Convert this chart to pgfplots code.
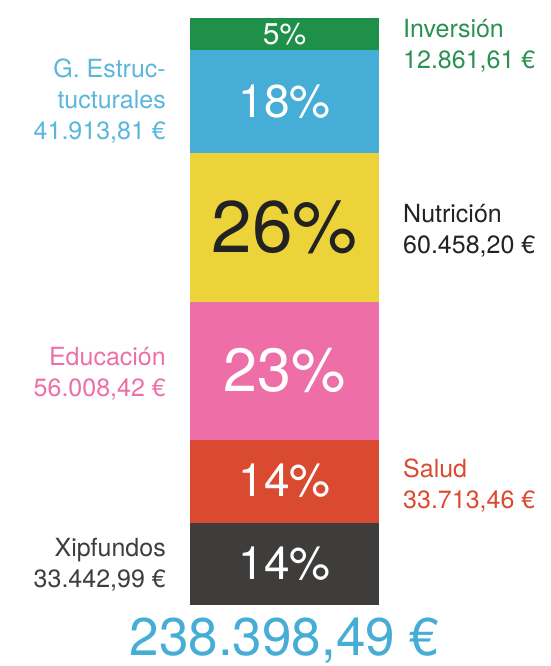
\documentclass[border=0pt]{standalone}
\usepackage{pgfplots}
\pgfplotsset{compat=1.18}
\usepackage{fontspec}
\setmainfont{TeX Gyre Heros}
\definecolor{cGreen}{HTML}{1F9049}
\definecolor{cBlue}{HTML}{46AED6}
\definecolor{cYellow}{HTML}{EDD33A}
\definecolor{cPink}{HTML}{EE6FA8}
\definecolor{cRed}{HTML}{DA4A30}
\definecolor{cDark}{HTML}{3E3D3B}
\definecolor{tBlue}{HTML}{5AB6DD}
\definecolor{tGreen}{HTML}{2A9150}
\definecolor{tBlack}{HTML}{222222}
\tikzset{lbl/.style={inner sep=0pt, font=\fontsize{25}{31}\selectfont}}
\begin{document}
\begin{tikzpicture}
\path[use as bounding box] (-190pt,-61pt) rectangle (360pt,605pt);
\begin{axis}[
  scale only axis, width=189pt, height=587pt,
  xmin=0, xmax=1, ymin=0, ymax=238398.49,
  hide axis, ybar stacked, bar width=1, clip=false,
]
\addplot[fill=cDark, draw=none] coordinates {(0.5,33442.99)};
\addplot[fill=cRed, draw=none] coordinates {(0.5,33713.46)};
\addplot[fill=cPink, draw=none] coordinates {(0.5,56008.42)};
\addplot[fill=cYellow, draw=none] coordinates {(0.5,60458.20)};
\addplot[fill=cBlue, draw=none] coordinates {(0.5,41913.81)};
\addplot[fill=cGreen, draw=none] coordinates {(0.5,12861.61)};

\coordinate (pX) at (axis cs:0.5,16721.5);
\coordinate (pS) at (axis cs:0.5,50299.7);
\coordinate (pE) at (axis cs:0.5,95160.7);
\coordinate (pN) at (axis cs:0.5,153394);
\coordinate (pG) at (axis cs:0.5,204580);
\coordinate (pI) at (axis cs:0.5,231968);
\coordinate (lG) at (axis cs:-0.127,204580);
\coordinate (lE) at (axis cs:-0.127,94000);
\coordinate (lX) at (axis cs:-0.127,16500);
\coordinate (rI) at (axis cs:1.127,227213);
\coordinate (rN) at (axis cs:1.127,151800);
\coordinate (rS) at (axis cs:1.127,48500);
\coordinate (tot) at (axis cs:0.5,-20400);
\end{axis}
% percentages
\node[inner sep=0pt, text=white, font=\fontsize{46}{46}\selectfont] at (pX) {14\%};
\node[inner sep=0pt, text=white, font=\fontsize{46}{46}\selectfont] at (pS) {14\%};
\node[inner sep=0pt, text=white, font=\fontsize{61}{61}\selectfont] at (pE) {23\%};
\node[inner sep=0pt, text=tBlack, font=\fontsize{73}{73}\selectfont] at (pN) {26\%};
\node[inner sep=0pt, text=white, font=\fontsize{46}{46}\selectfont] at (pG) {18\%};
\node[inner sep=0pt, text=white, font=\fontsize{30}{30}\selectfont] at (pI) {5\%};
% left labels
\node[lbl, anchor=east, align=right, text=tBlue] at (lG) {G. Estruc-\\tucturales\\41.913,81 €};
\node[lbl, anchor=east, align=right, text=cPink] at (lE) {Educación\\56.008,42 €};
\node[lbl, anchor=east, align=right, text=cDark] at (lX) {Xipfundos\\33.442,99 €};
% right labels
\node[lbl, anchor=west, align=left, text=tGreen] at (rI) {Inversión\\12.861,61 €};
\node[lbl, anchor=west, align=left, text=tBlack] at (rN) {Nutrición\\60.458,20 €};
\node[lbl, anchor=west, align=left, text=cRed] at (rS) {Salud\\33.713,46 €};
% total
\node[inner sep=0pt, anchor=base, text=cBlue, font=\fontsize{53}{53}\selectfont] at (tot) {238.398,49 €};
\end{tikzpicture}
\end{document}
